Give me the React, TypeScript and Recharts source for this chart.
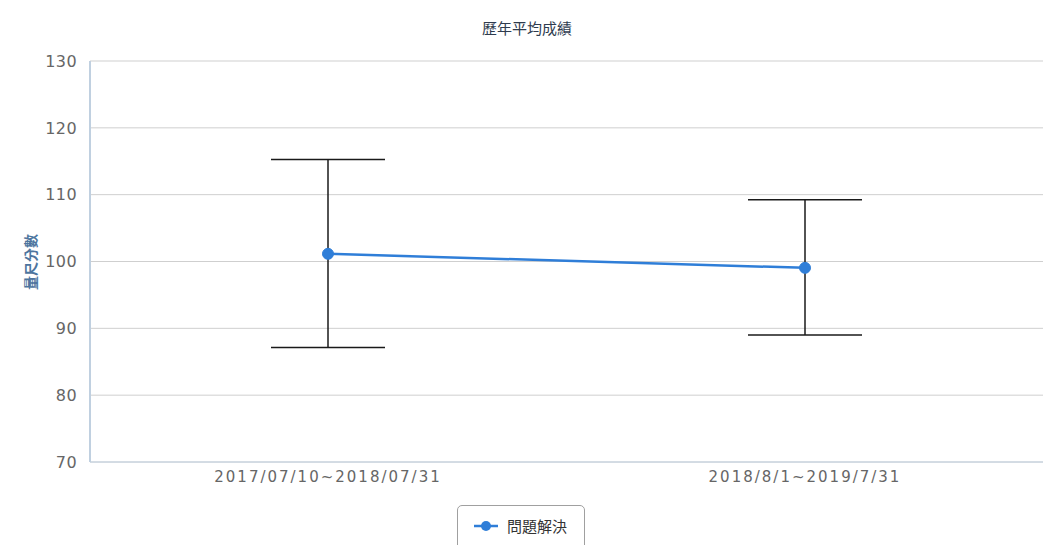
import React from 'react';
import {
  LineChart,
  Line,
  XAxis,
  YAxis,
  CartesianGrid,
  ErrorBar,
} from 'recharts';

// values
const categories = ['2017/07/10~2018/07/31', '2018/8/1~2019/7/31'];
const means = [101.15, 99.05];
const upper = [115.25, 109.25];
const lower = [87.15, 89.0];
const yTicks = [70, 80, 90, 100, 110, 120, 130];

const seriesName = '問題解決';
const title = '歷年平均成績';
const yLabel = '量尺分數';

const lineColor = '#2f7ed8';
const cjk = '"Noto Sans CJK TC", "Noto Sans", sans-serif';
const num = '"DejaVu Sans", "Noto Sans CJK TC", sans-serif';

const data = categories.map((c, i) => ({
  name: c,
  mean: means[i],
  // asymmetric error: [below, above]
  err: [means[i] - lower[i], upper[i] - means[i]],
}));

export default function App() {
  return (
    <div style={{ position: 'absolute', left: 0, top: 0, width: 1047, height: 545, background: '#fff', overflow: 'hidden' }}>
      <div
        style={{
          position: 'absolute',
          top: 18,
          left: 0,
          width: 1054,
          textAlign: 'center',
          fontFamily: cjk,
          fontSize: 15,
          color: '#2e3b4e',
          lineHeight: '20px',
        }}
      >
        {title}
      </div>
      <div
        style={{
          position: 'absolute',
          left: 30,
          top: 262,
          transform: 'translate(-50%, -50%) rotate(-90deg)',
          fontFamily: cjk,
          fontSize: 14,
          fontWeight: 700,
          color: '#4d759e',
          whiteSpace: 'nowrap',
        }}
      >
        {yLabel}
      </div>
      <LineChart
        width={1047}
        height={545}
        data={data}
        margin={{ top: 61, right: 4, left: 0, bottom: 53 }}
      >
        <CartesianGrid vertical={false} stroke="#cfcfcf" />
        <XAxis
          dataKey="name"
          padding={{ left: 238, right: 238 }}
          axisLine={{ stroke: '#c0d0e0', strokeWidth: 1 }}
          tickLine={false}
          tickSize={0}
          tickMargin={9}
          height={30}
          interval={0}
          tick={{ fill: '#666', fontSize: 15, fontFamily: num, letterSpacing: 2 }}
        />
        <YAxis
          width={90}
          domain={[70, 130]}
          ticks={yTicks}
          interval={0}
          axisLine={{ stroke: '#c0d0e0', strokeWidth: 2 }}
          tickLine={false}
          tickSize={0}
          tickMargin={13}
          tick={{ fill: '#666', fontSize: 16, fontFamily: num, letterSpacing: 0.4 }}
        />
        <Line
          dataKey="mean"
          name={seriesName}
          stroke={lineColor}
          strokeWidth={2.5}
          dot={{ r: 5.5, fill: lineColor, stroke: lineColor, strokeWidth: 1 }}
          activeDot={false}
          isAnimationActive={false}
        >
          <ErrorBar dataKey="err" width={57} stroke="#1a1a1a" strokeWidth={1.5} direction="y" />
        </Line>
      </LineChart>
      <div
        style={{
          position: 'absolute',
          left: 457,
          top: 505,
          width: 128,
          height: 46,
          border: '1px solid #a0a0a0',
          borderRadius: 5,
          boxSizing: 'border-box',
          display: 'flex',
          alignItems: 'flex-start',
          paddingTop: 10,
          paddingLeft: 15,
          fontFamily: cjk,
          fontSize: 15,
          color: '#333',
        }}
      >
        <svg width={26} height={20} style={{ marginRight: 8 }}>
          <line x1={1} y1={10} x2={25} y2={10} stroke={lineColor} strokeWidth={2.5} />
          <circle cx={13} cy={10} r={5} fill={lineColor} />
        </svg>
        <span style={{ lineHeight: '20px' }}>{seriesName}</span>
      </div>
    </div>
  );
}
